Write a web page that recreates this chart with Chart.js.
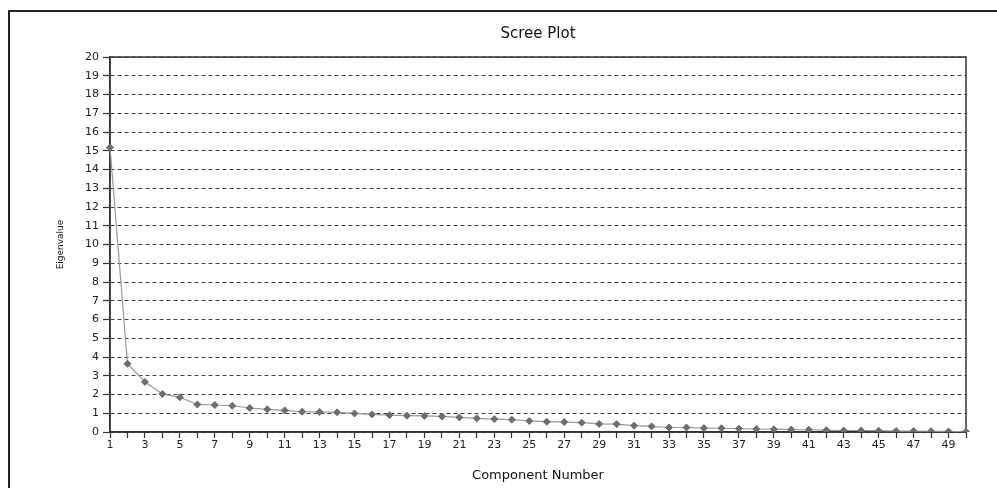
<!DOCTYPE html>
<html>
<head>
<meta charset="utf-8">
<script src="https://cdn.jsdelivr.net/npm/chart.js@4/dist/chart.umd.min.js"></script>
<style>
  html, body { margin: 0; padding: 0; background: #fff; overflow: hidden; }
  #wrap { position: relative; width: 997px; height: 488px; }
  #frame { position: absolute; left: 8px; top: 10px; width: 1000px; height: 500px; border: 2px solid #222; box-sizing: border-box; pointer-events: none; }
  canvas { position: absolute; left: 0; top: 0; }
</style>
</head>
<body>
<div id="wrap">
  <canvas id="c" width="997" height="488"></canvas>
  <div id="frame"></div>
</div>
<script>
const components = Array.from({length: 50}, (_, i) => String(i + 1));
const eigenvalues = [
  15.18, 3.64, 2.67, 2.03, 1.85, 1.47, 1.44, 1.40, 1.28, 1.21,
  1.15, 1.08, 1.07, 1.05, 0.99, 0.94, 0.90, 0.87, 0.86, 0.83,
  0.78, 0.73, 0.69, 0.66, 0.59, 0.55, 0.53, 0.50, 0.43, 0.42,
  0.34, 0.30, 0.24, 0.24, 0.21, 0.20, 0.18, 0.16, 0.15, 0.13,
  0.12, 0.10, 0.08, 0.08, 0.07, 0.05, 0.05, 0.04, 0.03, 0.01
];
const chartTitle = 'Scree Plot';
const xTitle = 'Component Number';
const yTitle = 'Eigenvalue';

const boxPlugin = {
  id: 'box',
  beforeDatasetsDraw(chart) {
    const {ctx, chartArea: a} = chart;
    ctx.save();
    ctx.strokeStyle = '#333';
    ctx.lineWidth = 1.5;
    ctx.strokeRect(a.left, a.top, a.right - a.left, a.bottom - a.top);
    ctx.restore();
  },
  afterDraw(chart) {
    const {ctx, chartArea: a} = chart;
    ctx.save();
    ctx.fillStyle = '#111';
    ctx.font = '15px "DejaVu Sans"';
    ctx.textAlign = 'center';
    ctx.textBaseline = 'middle';
    ctx.fillText(chartTitle, (a.left + a.right) / 2, 34);
    ctx.restore();
  }
};

new Chart(document.getElementById('c'), {
  type: 'line',
  data: {
    labels: components,
    datasets: [{
      data: eigenvalues,
      borderColor: '#999',
      borderWidth: 1.2,
      pointStyle: 'rectRot',
      pointRadius: 3.5,
      pointBackgroundColor: '#6e6e6e',
      pointBorderColor: '#6e6e6e',
      pointBorderWidth: 1,
      tension: 0,
      fill: false
    }]
  },
  options: {
    responsive: false,
    animation: false,
    layout: { padding: { left: 0, right: 31, top: 57, bottom: 0 } },
    plugins: {
      legend: { display: false },
      tooltip: { enabled: false },
      title: { display: false }
    },
    scales: {
      x: {
        type: 'category',
        offset: false,
        afterFit(scale) { scale.height = 56; },
        grid: { display: true, drawOnChartArea: false, drawTicks: true, tickLength: 6, tickColor: '#333', tickWidth: 1.2 },
        border: { display: true, color: '#333', width: 1.5 },
        ticks: {
          autoSkip: false,
          maxRotation: 0,
          padding: 1,
          color: '#222',
          font: { family: 'DejaVu Sans', size: 11 },
          callback(v, i) { return i % 2 === 0 ? this.getLabelForValue(v) : ''; }
        },
        title: {
          display: true,
          text: xTitle,
          color: '#111',
          font: { family: 'DejaVu Sans', size: 13 },
          padding: { top: 0, bottom: 5 }
        }
      },
      y: {
        min: 0,
        max: 20,
        afterFit(scale) { scale.width = 110; },
        grid: { display: true, drawOnChartArea: true, drawTicks: true, tickLength: 7, color: '#444', lineWidth: 1, tickColor: '#333', tickWidth: 1.2 },
        border: { display: true, color: '#333', width: 1.5, dash: [4, 3] },
        ticks: {
          stepSize: 1,
          padding: 4,
          color: '#222',
          font: { family: 'DejaVu Sans', size: 11 }
        },
        title: {
          display: true,
          text: yTitle,
          color: '#111',
          font: { family: 'DejaVu Sans', size: 9 },
          padding: { top: 55, bottom: 0 }
        }
      }
    }
  },
  plugins: [boxPlugin]
});
</script>
</body>
</html>
